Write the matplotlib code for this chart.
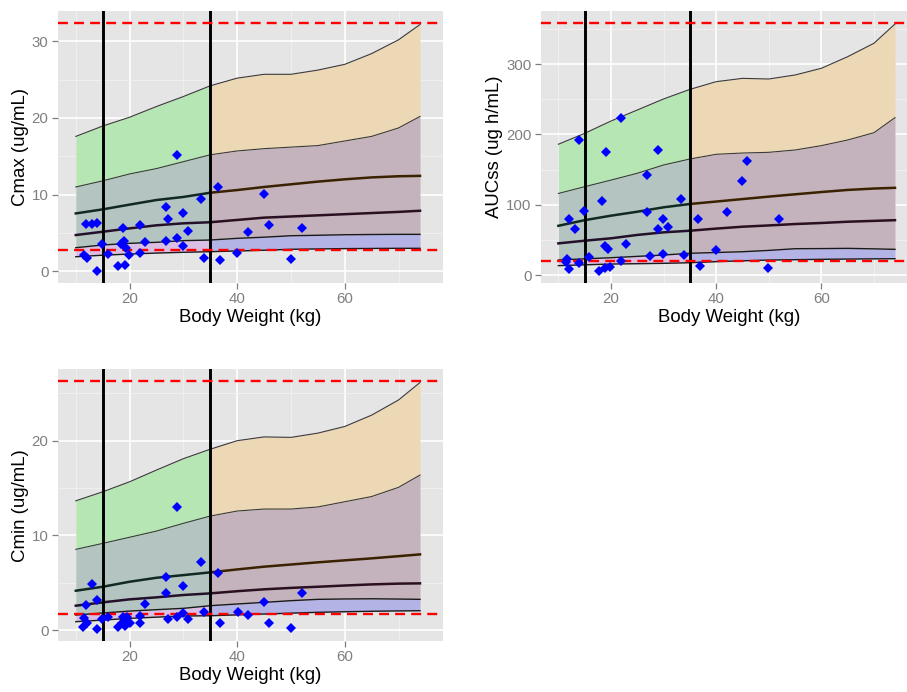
import matplotlib
matplotlib.use("Agg")
import matplotlib.pyplot as plt
from matplotlib.ticker import FixedLocator

plt.rcParams['font.family'] = ['Liberation Sans', 'DejaVu Sans']

# body weight grid used for the prediction bands
bw_grid = [10, 15, 20, 25, 30, 35, 40, 45, 50, 55, 60, 65, 70, 74]
split_idx = 5  # bw_grid[5] == 35 kg, colour change of the bands
bw_cuts = [15, 35]

# Cmax bands (bottom -> top)
cmax_l1 = [1.9, 2.1, 2.25, 2.38, 2.48, 2.56, 2.65, 2.75, 2.87, 2.92, 2.96, 2.98, 3.0, 3.0]
cmax_l2 = [3.08, 3.43, 3.65, 3.78, 4.0, 4.08, 4.3, 4.45, 4.64, 4.7, 4.77, 4.8, 4.82, 4.82]
cmax_l3 = [4.73, 5.16, 5.6, 6.0, 6.26, 6.4, 6.7, 7.0, 7.15, 7.3, 7.45, 7.6, 7.75, 7.9]
cmax_l4 = [7.55, 8.08, 8.7, 9.3, 9.7, 10.25, 10.6, 11.0, 11.35, 11.7, 12.0, 12.25, 12.4, 12.45]
cmax_l5 = [11.0, 11.8, 12.7, 13.4, 14.3, 15.2, 15.7, 16.0, 16.2, 16.4, 17.0, 17.6, 18.7, 20.2]
cmax_l6 = [17.6, 18.95, 20.1, 21.5, 22.8, 24.2, 25.2, 25.7, 25.7, 26.25, 27.0, 28.4, 30.2, 32.2]
cmax_ref = [2.78, 32.43]

# AUCss bands
auc_l1 = [13.3, 14.5, 15.6, 16.1, 16.6, 17.5, 19, 20.2, 21.3, 21.8, 22.3, 22.7, 23, 23.2]
auc_l2 = [21.3, 23, 24.6, 26.5, 28.4, 30.9, 32, 33.1, 35, 37.4, 37.6, 37.9, 37.2, 36.5]
auc_l3 = [45, 48.8, 52.2, 57, 60.7, 63, 66, 68.7, 70.5, 72.5, 74, 75.8, 77, 78]
auc_l4 = [70, 78, 84.4, 90, 96.3, 101, 104.5, 108, 111.5, 114.8, 118, 121, 123, 124]
auc_l5 = [116, 125.6, 135, 144.7, 156.5, 165, 171.7, 173.5, 174.5, 177.8, 184, 192, 202.4, 223.8]
auc_l6 = [186, 201.5, 219, 234.7, 250.4, 264, 275, 279.7, 278.8, 284.5, 294, 310.5, 329.6, 357]
auc_ref = [19.9, 358.7]

# Cmin bands
cmin_l1 = [0.88, 1.05, 1.23, 1.36, 1.48, 1.51, 1.6, 1.69, 1.78, 1.87, 1.93, 1.98, 2.02, 2.04]
cmin_l2 = [1.58, 1.8, 2.0, 2.15, 2.29, 2.57, 2.75, 2.92, 3.1, 3.24, 3.28, 3.3, 3.27, 3.24]
cmin_l3 = [2.57, 2.92, 3.24, 3.45, 3.7, 3.87, 4.1, 4.3, 4.45, 4.57, 4.7, 4.82, 4.9, 4.93]
cmin_l4 = [4.15, 4.57, 5.1, 5.52, 5.8, 6.09, 6.4, 6.69, 6.92, 7.15, 7.36, 7.57, 7.8, 7.99]
cmin_l5 = [8.52, 9.15, 9.8, 10.45, 11.27, 12.04, 12.57, 12.78, 12.78, 13.0, 13.55, 14.1, 15.07, 16.37]
cmin_l6 = [13.65, 14.6, 15.66, 16.9, 18.1, 19.1, 20.0, 20.4, 20.35, 20.8, 21.5, 22.7, 24.3, 26.15]
cmin_ref = [1.72, 26.27]

# observed data
cmax_wt = [11.6, 11.9, 12.0, 13.0, 14.0, 14.0, 14.9, 16.0, 17.9, 18.4, 18.8, 18.9, 19.1, 19.4,
           19.9, 21.9, 21.9, 22.8, 26.8, 26.8, 27.2, 28.8, 28.8, 29.9, 29.9, 30.9, 33.3, 33.9,
           36.5, 36.8, 40.0, 42.0, 44.9, 45.9, 50.0, 52.1]
cmax_obs = [2.1, 6.2, 1.8, 6.2, 6.34, 0.08, 3.5, 2.2, 0.7, 3.5, 5.7, 4.0, 0.85, 3.08,
            2.12, 6.04, 2.43, 3.86, 8.34, 3.99, 6.82, 15.2, 4.3, 7.56, 3.34, 5.2, 9.43, 1.78,
            11.0, 1.47, 2.39, 5.08, 10.08, 6.04, 1.6, 5.7]

auc_wt = [11.4, 11.7, 12.0, 12.0, 13.1, 14.0, 14.0, 14.8, 15.8, 17.8, 18.3, 18.9, 18.9, 19.0,
          19.5, 19.9, 22.0, 22.0, 22.8, 26.9, 26.9, 27.5, 28.9, 28.9, 29.9, 29.9, 30.8, 33.3,
          33.9, 36.5, 36.9, 39.9, 42.0, 44.9, 45.8, 49.9, 51.9]
auc_obs = [18, 22.3, 79.7, 8.1, 65.9, 192, 16.6, 91.5, 25.2, 5.7, 104.8, 9.5, 41.2, 175,
           37, 11.4, 224, 19.9, 43.6, 142.7, 90, 27, 178, 65.9, 79.7, 29.9, 67.8, 108.6,
           28.4, 79.7, 13.3, 35.1, 89.6, 133.7, 161.7, 9.5, 79.7]

cmin_wt = [11.4, 11.6, 11.9, 12.0, 13.0, 14.0, 14.0, 14.9, 16.0, 17.9, 18.6, 18.8, 19.1, 19.6,
           20.1, 19.3, 21.9, 21.9, 22.8, 26.8, 26.8, 27.2, 28.8, 28.8, 29.9, 29.9, 30.9, 33.3,
           33.9, 36.5, 36.8, 40.1, 42.0, 44.9, 45.9, 50.0, 52.1]
cmin_obs = [0.35, 1.23, 2.6, 0.77, 4.89, 3.13, 0.1, 1.13, 1.34, 0.35, 0.77, 1.4, 0.42, 1.4,
            0.77, 1.0, 1.51, 0.7, 2.75, 5.63, 3.87, 1.13, 13.0, 1.34, 4.65, 1.76, 1.13, 7.18,
            1.87, 6.05, 0.7, 1.87, 1.58, 3.0, 0.7, 0.2, 3.87]

left_cols = ['#d9bfe3', '#b3c4c1', '#b5e6b3']   # low, middle, high band for BW < 35
right_cols = ['#b3b3e6', '#c4b3bd', '#edd8b6']  # same bands for BW >= 35


def draw_panel(ax, lines, wt, obs, ref, ylim, yticks, yminor, ylabel):
    ax.set_facecolor('#e5e5e5')
    for s in ax.spines.values():
        s.set_visible(False)
    ax.set_xlim(6.7, 78.2)
    ax.set_ylim(*ylim)
    ax.set_xticks([20, 40, 60])
    ax.set_yticks(yticks)
    ax.xaxis.set_minor_locator(FixedLocator([10, 30, 50, 70]))
    ax.yaxis.set_minor_locator(FixedLocator(yminor))
    ax.grid(which='major', color='white', lw=1.2, zorder=0)
    ax.grid(which='minor', color='#f2f2f2', lw=0.6, zorder=0)
    ax.set_axisbelow(True)
    ax.tick_params(which='major', length=4.3, width=0.9, color='#7f7f7f',
                   labelcolor='#7f7f7f', labelsize=10.8, pad=2.5)
    ax.tick_params(which='minor', length=0)

    l1, l2, l3, l4, l5, l6 = lines
    for seg, cols, thick in ((slice(0, split_idx + 1), left_cols, ['#102a22', '#24102a']),
                             (slice(split_idx, None), right_cols, ['#3a2200', '#2a1020'])):
        x = bw_grid[seg]
        ax.fill_between(x, l1[seg], l2[seg], color=cols[0], lw=0, zorder=1)
        ax.fill_between(x, l2[seg], l5[seg], color=cols[1], lw=0, zorder=1)
        ax.fill_between(x, l5[seg], l6[seg], color=cols[2], lw=0, zorder=1)
        for ln in (l1, l2):
            ax.plot(x, ln[seg], color='#1a1a1a', lw=1.0, zorder=2)
        for ln in (l5, l6):
            ax.plot(x, ln[seg], color='#3a3a3a', lw=0.8, zorder=2)
        ax.plot(x, l4[seg], color=thick[0], lw=1.8, zorder=2)
        ax.plot(x, l3[seg], color=thick[1], lw=1.8, zorder=2)

    for c in bw_cuts:
        ax.axvline(c, color='black', lw=2.1, zorder=3)
    for r in ref:
        ax.axhline(r, color='#ff0000', lw=1.7, dashes=(4.2, 2.6), zorder=4)
    ax.plot(wt, obs, 'D', color='#0000ff', ms=5.2, mew=0, zorder=5)

    ax.set_xlabel('Body Weight (kg)', fontsize=13.4, labelpad=2)
    ax.set_ylabel(ylabel, fontsize=13.4, labelpad=2)


fig = plt.figure(figsize=(9.07, 6.92), dpi=100)
ax1 = fig.add_axes([0.064, 0.591, 0.424, 0.393])
ax2 = fig.add_axes([0.5965, 0.591, 0.4146, 0.393])
ax3 = fig.add_axes([0.064, 0.0737, 0.424, 0.3926])

draw_panel(ax1, [cmax_l1, cmax_l2, cmax_l3, cmax_l4, cmax_l5, cmax_l6],
           cmax_wt, cmax_obs, cmax_ref, (-1.53, 33.95), [0, 10, 20, 30], [5, 15, 25],
           'Cmax (ug/mL)')
draw_panel(ax2, [auc_l1, auc_l2, auc_l3, auc_l4, auc_l5, auc_l6],
           auc_wt, auc_obs, auc_ref, (-11.4, 375.4), [0, 100, 200, 300], [50, 150, 250, 350],
           'AUCss (ug h/mL)')
draw_panel(ax3, [cmin_l1, cmin_l2, cmin_l3, cmin_l4, cmin_l5, cmin_l6],
           cmin_wt, cmin_obs, cmin_ref, (-1.16, 27.54), [0, 10, 20], [5, 15, 25],
           'Cmin (ug/mL)')

fig.savefig('out.png', dpi=100)
